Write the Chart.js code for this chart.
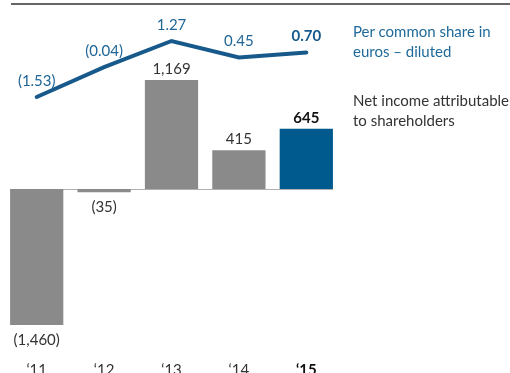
<!DOCTYPE html>
<html>
<head>
<meta charset="utf-8">
<script src="https://cdn.jsdelivr.net/npm/chart.js@4.4.0/dist/chart.umd.min.js"></script>
<style>
  body { margin: 0; background: #fff; }
  #wrap { position: relative; width: 510px; height: 373px; overflow: hidden; font-family: Lato, sans-serif; }
  #rule { position: absolute; left: 11px; top: 3px; width: 499px; height: 2px; background: #666; }
  .legend { position: absolute; left: 353px; font-size: 15px; line-height: 20px; }
  #legendShare { top: 21px; color: #1f6a9a; }
  #legendIncome { top: 90px; color: #333; }
  canvas { position: absolute; left: 0; top: 0; }
</style>
</head>
<body>
<div id="wrap">
  <div id="rule"></div>
  <canvas id="incomeChart" width="510" height="373"></canvas>
  <div class="legend" id="legendShare">Per common share in<br>euros – diluted</div>
  <div class="legend" id="legendIncome">Net income attributable<br>to shareholders</div>
</div>
<script>
const years = ["‘11", "‘12", "‘13", "‘14", "‘15"];
// net income in millions of euros
const netIncome = [-1460, -35, 1169, 415, 645];
// per common share in euros, diluted
const perShare = [-1.53, -0.04, 1.27, 0.45, 0.70];

const blue = "#17598a";
const labelBlue = "#1f6596";
const barGray = "#8a8a8a";
const barBlue = "#005a8e";
const labelFont = "Lato, sans-serif";

const fmtIncome = v => {
  const s = Math.abs(v).toLocaleString("en-US");
  return v < 0 ? "(" + s + ")" : s;
};
const fmtShare = v => {
  const s = Math.abs(v).toFixed(2);
  return v < 0 ? "(" + s + ")" : s;
};

const lastIdx = years.length - 1;

// thin baseline at zero, spanning the bars
const zeroLine = {
  id: "zeroLine",
  beforeDatasetsDraw(chart) {
    const bars = chart.getDatasetMeta(1).data;
    const y0 = Math.round(chart.scales.y.getPixelForValue(0)) + 0.5;
    const first = bars[0], last = bars[bars.length - 1];
    const ctx = chart.ctx;
    ctx.save();
    ctx.strokeStyle = "#b0b0b0";
    ctx.lineWidth = 1;
    ctx.beginPath();
    ctx.moveTo(first.x - first.width / 2, y0);
    ctx.lineTo(last.x + last.width / 2, y0);
    ctx.stroke();
    ctx.restore();
  }
};

// value labels over the line and bars, plus the year labels
const valueLabels = {
  id: "valueLabels",
  afterDatasetsDraw(chart) {
    const ctx = chart.ctx;
    ctx.save();
    ctx.textAlign = "center";
    ctx.textBaseline = "middle";

    chart.getDatasetMeta(0).data.forEach((pt, i) => {
      ctx.fillStyle = i === lastIdx ? blue : labelBlue;
      ctx.font = (i === lastIdx ? "bold " : "") + "15px " + labelFont;
      ctx.fillText(fmtShare(perShare[i]), pt.x, pt.y - 16);
    });

    chart.getDatasetMeta(1).data.forEach((bar, i) => {
      const v = netIncome[i];
      ctx.fillStyle = i === lastIdx ? "#111" : "#333";
      ctx.font = (i === lastIdx ? "bold " : "") + "15px " + labelFont;
      const y = v < 0 ? bar.y + 15 : bar.y - 11;
      ctx.fillText(fmtIncome(v), bar.x, y);
    });

    const x = chart.scales.x;
    years.forEach((yr, i) => {
      ctx.fillStyle = i === lastIdx ? "#111" : "#333";
      ctx.font = (i === lastIdx ? "bold " : "") + "15px " + labelFont;
      ctx.fillText(yr, x.getPixelForValue(i), 370);
    });
    ctx.restore();
  }
};

const ctx = document.getElementById("incomeChart");

const incomeChart = new Chart(ctx, {
  data: {
    labels: years,
    datasets: [
      {
        type: "line",
        label: "Per common share in euros - diluted",
        data: perShare,
        yAxisID: "y2",
        borderColor: blue,
        borderWidth: 4,
        borderCapStyle: "round",
        pointRadius: 0,
        tension: 0,
        order: 0
      },
      {
        type: "bar",
        label: "Net income attributable to shareholders",
        data: netIncome,
        yAxisID: "y",
        backgroundColor: years.map((_, i) => (i === lastIdx ? barBlue : barGray)),
        barPercentage: 0.79,
        categoryPercentage: 1,
        order: 1
      }
    ]
  },
  options: {
    responsive: false,
    animation: false,
    layout: {
      padding: {
        left: 3,
        right: 170,
        top: 5,
        bottom: 28
      }
    },
    plugins: {
      legend: { display: false },
      tooltip: { enabled: false }
    },
    scales: {
      x: { display: false, offset: true },
      y: { display: false, min: -1674, max: 1974 },
      y2: { display: false, min: -13.93, max: 3.07 }
    }
  },
  plugins: [zeroLine, valueLabels]
});
</script>
</body>
</html>
